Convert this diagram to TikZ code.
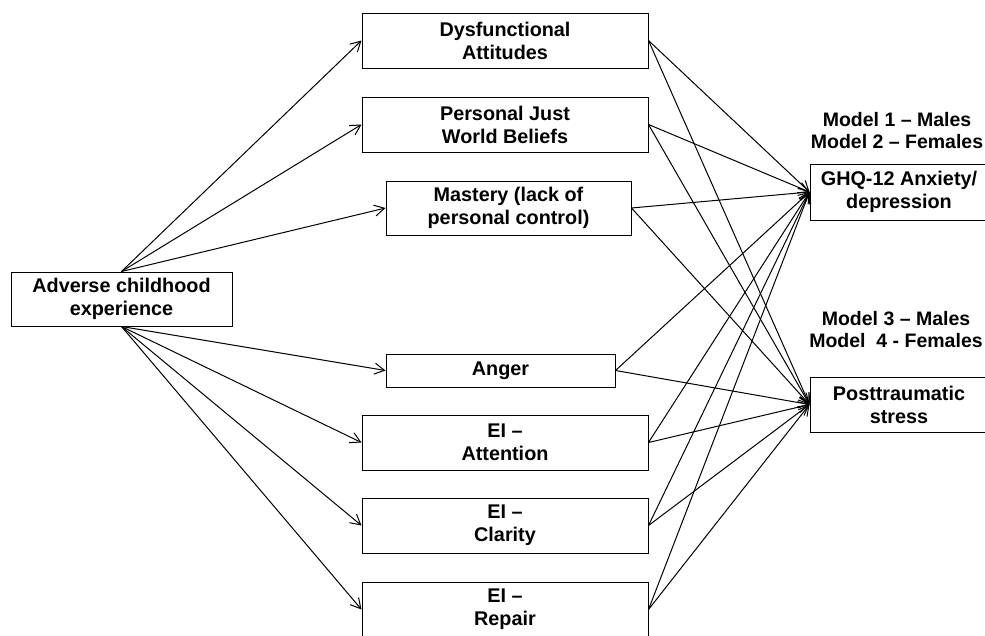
\documentclass[tikz,border=0pt]{standalone}
\usepackage{fontspec}
\setmainfont{Liberation Sans}
\usetikzlibrary{arrows.meta}

\tikzset{
  box/.style={draw=black, line width=1pt, inner sep=0pt, align=center,
              font=\bfseries\fontsize{19.8}{23}\selectfont},
  lbl/.style={inner sep=0pt, align=center,
              font=\bfseries\fontsize{19.5}{22}\selectfont},
  path/.style={draw=black, line width=1pt,
               -{Straight Barb[length=10pt,width=11pt,line width=1pt]}}
}

\begin{document}
\begin{tikzpicture}[x=1pt, y=-1pt]
  \useasboundingbox (0,0) rectangle (985,635);

  % predictor
  \node[box, minimum width=221pt, minimum height=54pt] (ace) at (121.5,299)
    {Adverse childhood\\experience};

  % mediators
  \node[box, minimum width=286pt, minimum height=55pt] (dys) at (505,40.5)
    {Dysfunctional\\Attitudes};
  \node[box, minimum width=286pt, minimum height=55pt] (pjw) at (505,124.5)
    {Personal Just\\World Beliefs};
  \node[box, minimum width=245pt, minimum height=54pt] (mas) at (508.5,208)
    {Mastery (lack of\\personal control)};
  \node[box, minimum width=229pt, minimum height=33pt] (ang) at (500.5,370.5)
    {Anger};
  \node[box, minimum width=286pt, minimum height=55pt] (att) at (505,442.5)
    {EI --\\Attention};
  \node[box, minimum width=286pt, minimum height=55pt] (cla) at (505,525.5)
    {EI --\\Clarity};
  \node[box, minimum width=286pt, minimum height=55pt] (rep) at (505,609.5)
    {EI --\\Repair};

  % outcomes
  \node[box, minimum width=178pt, minimum height=56pt] (ghq) at (899,192)
    {GHQ-12 Anxiety/\\depression};
  \node[box, minimum width=178pt, minimum height=55pt] (pts) at (899,404.5)
    {Posttraumatic\\stress};

  % model captions
  \node[lbl] (m12) at (897,131) {Model 1 -- Males\\Model 2 -- Females};
  \node[lbl] (m34) at (896,330) {Model 3 -- Males\\Model\ \ 4 - Females};

  % predictor to mediators
  \foreach \m in {dys,pjw,mas} \draw[path] (ace.north) -- (\m.west);
  \foreach \m in {ang,att,cla,rep} \draw[path] (ace.south) -- (\m.west);

  % mediators to outcomes
  \foreach \m in {dys,pjw,mas,ang,att,cla,rep} {
    \draw[path] (\m.east) -- (ghq.west);
    \draw[path] (\m.east) -- (pts.west);
  }
\end{tikzpicture}
\end{document}
